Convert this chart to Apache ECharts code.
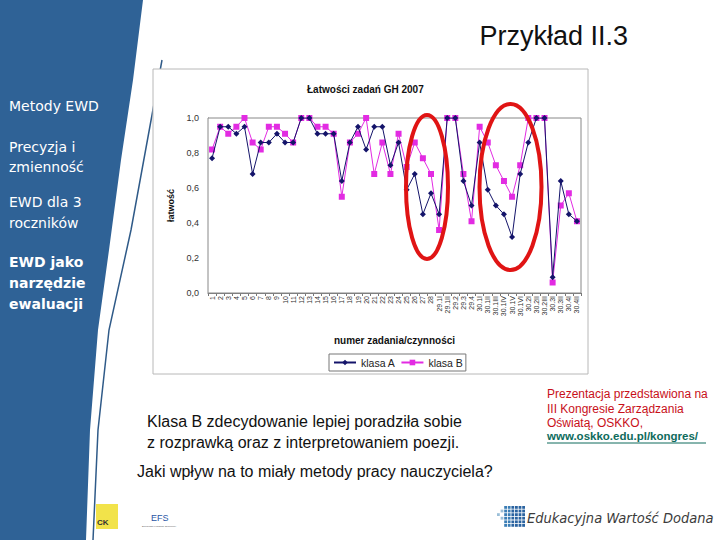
<!DOCTYPE html>
<html>
<head>
<meta charset="utf-8">
<script src="https://cdn.jsdelivr.net/npm/echarts@6/dist/echarts.min.js"></script>
<style>
html,body{margin:0;padding:0;background:#fff;}
#c{width:720px;height:540px;}
</style>
</head>
<body>
<div id="c"></div>
<script>
const categories = ['1','2','3','4','5','6','7','8','9','10','11','12','13','14','15','16','17','18','19','20','21','22','23','24','25','26','27','28',
  '29.1I','29.1II','29.2','29.3','29.4','30.1I','30.1II','30.1III','30.1IV','30.1V','30.1VI','30.2I','30.2II','30.2III','30.3I','30.3II','30.4I','30.4II'];
const klasaA = [0.77,0.95,0.95,0.91,0.95,0.68,0.86,0.86,0.91,0.86,0.86,1.0,1.0,0.91,0.91,0.91,0.64,0.86,0.95,0.82,
  0.95,0.95,0.73,0.86,0.59,0.68,0.45,0.57,0.45,1.0,1.0,0.64,0.50,0.86,0.59,0.50,0.45,0.32,0.68,0.86,1.0,1.0,0.09,0.64,0.45,0.41];
const klasaB = [0.82,0.95,0.91,0.95,1.0,0.86,0.82,0.95,0.95,0.91,0.86,1.0,1.0,0.95,0.95,0.91,0.55,0.86,0.91,1.0,
  0.68,0.86,0.68,0.91,0.72,0.86,0.77,0.68,0.36,1.0,1.0,0.68,0.41,0.95,0.86,0.73,0.64,0.55,0.73,1.0,1.0,1.0,0.06,0.50,0.57,0.41];
const yTicks = [0, 0.2, 0.4, 0.6, 0.8, 1.0];

const chart = echarts.init(document.getElementById('c'), null, {renderer: 'svg'});

const sideText = (t, y, bold) => ({type:'text', left: 9, top: y, z: 5,
  style:{text: t, fill:'#ffffff', font: (bold?'bold ':'') + '14px "DejaVu Sans"'}});

// EWD logo squares
const ewdSquares = [];
const ewdCols = [[2,3],[1,4],[0,5],[0,5],[0,5],[1,4]];
for (let c = 0; c < 8; c++) {
  for (let r = 0; r < 6; r++) {
    if (c < 3 && (r < ewdCols[c][0] || r > ewdCols[c][1])) continue;
    if (c < 2 && (r + c) % 2 === 1) continue;
    ewdSquares.push({type:'rect', z:5, shape:{x: 497 + c*3.6, y: 506 + r*3.6, width: 2.8, height: 2.8},
      style:{fill: c < 2 ? '#9bbfd8' : (c < 4 ? '#3a7db5' : '#2a63a0')}});
  }
}

chart.setOption({
  animation: false,
  backgroundColor: '#ffffff',
  title: {
    text: 'Łatwości zadań GH 2007', left: 302, top: 79,
    textStyle: {fontFamily: 'Liberation Sans', fontSize: 10, fontWeight: 'bold', color: '#111'}
  },
  legend: {
    left: 329, top: 354, itemWidth: 22, itemHeight: 7, itemGap: 5,
    padding: [3, 3, 3, 4], borderColor: '#777', borderWidth: 1,
    textStyle: {fontFamily: 'Liberation Sans', fontSize: 10.5, color: '#222'},
    data: ['klasa A', 'klasa B']
  },
  grid: {left: 208, right: 139, top: 118, bottom: 247, show: true, borderColor: '#888', borderWidth: 1, backgroundColor: '#fff', z: 3},
  xAxis: {
    type: 'category', data: categories, boundaryGap: true,
    name: 'numer zadania/czynności', nameLocation: 'middle', nameGap: 42,
    nameTextStyle: {fontFamily: 'Liberation Sans', fontSize: 10, fontWeight: 'bold', color: '#111'},
    axisLine: {lineStyle: {color: '#777'}},
    axisTick: {show: true, alignWithLabel: false, length: 3, lineStyle: {color: '#777'}},
    axisLabel: {interval: 0, rotate: 90, fontSize: 7, fontFamily: 'Liberation Sans', color: '#333', margin: 3}
  },
  yAxis: {
    type: 'value', min: 0, max: 1, interval: 0.2,
    name: 'łatwość', nameLocation: 'middle', nameGap: 32, nameRotate: 90,
    nameTextStyle: {fontFamily: 'Liberation Sans', fontSize: 9, fontWeight: 'bold', color: '#111'},
    axisLine: {show: true, lineStyle: {color: '#777'}},
    axisTick: {show: false},
    axisLabel: {fontSize: 9, fontFamily: 'Liberation Sans', color: '#333', margin: 9,
      formatter: v => v.toFixed(1).replace('.', ',')},
    splitLine: {show: true, lineStyle: {color: '#999', type: 'dotted', width: 1}}
  },
  series: [
    {name: 'klasa A', type: 'line', data: klasaA, symbol: 'diamond', symbolSize: 6,
      itemStyle: {color: '#14146a'}, lineStyle: {color: '#14146a', width: 1}, z: 4},
    {name: 'klasa B', type: 'line', data: klasaB, symbol: 'rect', symbolSize: 6,
      itemStyle: {color: '#e22be2'}, lineStyle: {color: '#e22be2', width: 1}, z: 3}
  ],
  graphic: [
    // sidebar
    {type:'polygon', z:-10, shape:{points:[[0,0],[143,0],[133,80],[121,160],[109,250],[98,330],[90,430],[86,540],[0,540]]},
      style:{fill:'#2f6296'}},
    {type:'polyline', z:-9, shape:{points:[[162,60],[152,115],[131,230],[109,330],[98,430],[93,540]]},
      style:{stroke:'#2f5a88', lineWidth:1.5, fill:'none'}},
    // chart picture frame
    {type:'rect', z:-8, shape:{x:153, y:69, width:435, height:305}, style:{fill:'#ffffff', stroke:'#b8b8b8', lineWidth:1}},
    sideText('Metody EWD', 99),
    sideText('Precyzja i', 140),
    sideText('zmienność', 160),
    sideText('EWD dla 3', 195),
    sideText('roczników', 216),
    sideText('EWD jako', 255, true),
    sideText('narzędzie', 276, true),
    sideText('ewaluacji', 297, true),
    // slide title
    {type:'text', right: 92, top: 22, z:5, style:{text:'Przykład II.3', fill:'#111', font:'27px "Liberation Sans"'}},
    // main text
    {type:'text', left: 147, top: 411, z:5, style:{text:'Klasa B zdecydowanie lepiej poradziła sobie\nz rozprawką oraz z interpretowaniem poezji.',
      fill:'#111', font:'16px "Liberation Sans"', lineHeight: 21}},
    {type:'text', left: 137, top: 463, z:5, style:{text:'Jaki wpływ na to miały metody pracy nauczyciela?', fill:'#111', font:'16px "Liberation Sans"'}},
    // credits
    {type:'text', left: 547, top: 387, z:5, style:{text:'Prezentacja przedstawiona na\nIII Kongresie Zarządzania\nOświatą, OSKKO,',
      fill:'#c8101a', font:'12px "Liberation Sans"', lineHeight: 14.5}},
    {type:'text', left: 547, top: 430, z:5, style:{text:'www.oskko.edu.pl/kongres/', fill:'#0e6b5c', font:'bold 11.5px "Liberation Sans"'}},
    {type:'line', z:5, shape:{x1:547, y1:443, x2:706, y2:443}, style:{stroke:'#0e6b5c', lineWidth:1}},
    // red ellipses
    {type:'ellipse', z:50, shape:{cx:427, cy:187, rx:21, ry:72}, style:{fill:'none', stroke:'#e01414', lineWidth:4}},
    {type:'ellipse', z:50, shape:{cx:510.5, cy:187, rx:31, ry:83}, style:{fill:'none', stroke:'#e01414', lineWidth:4}},
    // CKE logo
    {type:'rect', z:5, shape:{x:96, y:504, width:22, height:25}, style:{fill:'#f2e34a'}},
    {type:'text', left: 97, top: 518, z:6, style:{text:'CK', fill:'#333', font:'bold 8px "Liberation Sans"'}},
    // EFS logo
    {type:'text', left: 151, top: 513, z:5, style:{text:'EFS', fill:'#2a55a5', font:'9px "Liberation Sans"'}},
    {type:'text', left: 142, top: 525, z:5, style:{text:'Europejski Fundusz Społeczny', fill:'#555', font:'2.5px "Liberation Sans"'}},
    // EWD logo
    ...ewdSquares,
    {type:'text', left: 527, top: 510, z:5, style:{text:'Edukacyjna Wartość Dodana', fill:'#3c3c3c', font:'italic 14.5px "DejaVu Sans Condensed"'}}
  ]
});
</script>
</body>
</html>
